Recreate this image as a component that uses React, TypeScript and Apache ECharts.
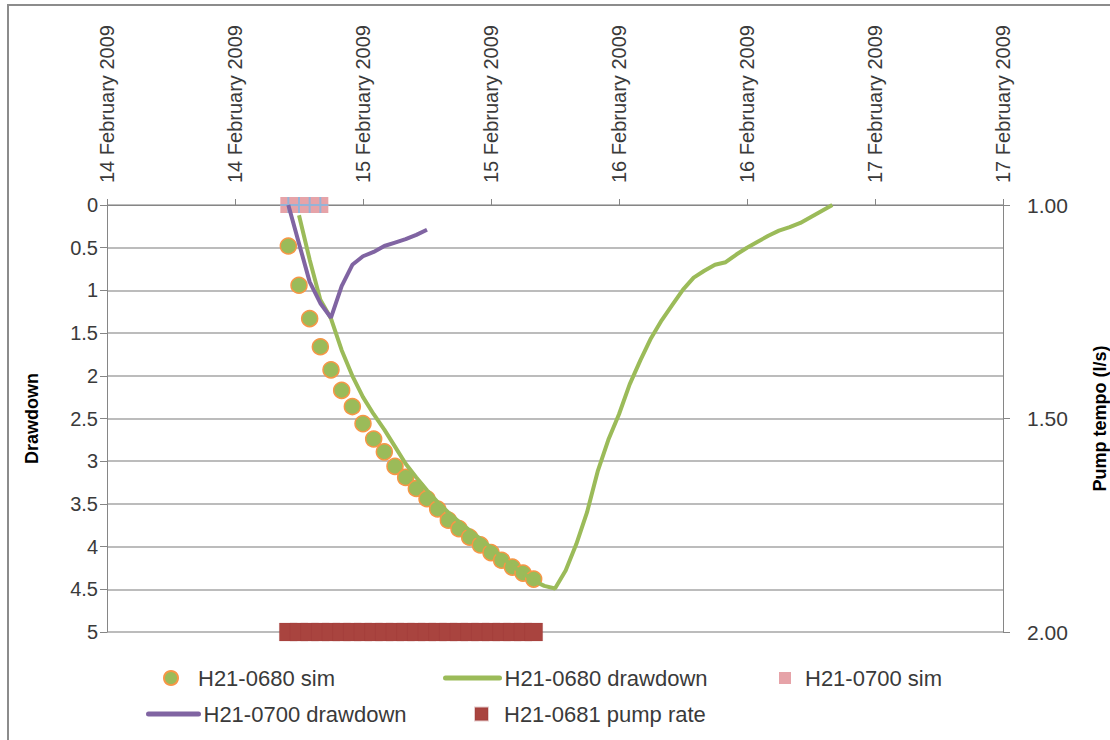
import { useEffect, useRef } from "react";
import * as echarts from "echarts";

// Time is counted in hours from 14 February 2009, 00:00 (UTC)
const START = Date.UTC(2009, 1, 14);
const HOUR_MS = 3600 * 1000;
const SPAN_HOURS = 84;
const TICK_HOURS = 12;
const MONTHS = [
  "January", "February", "March", "April", "May", "June",
  "July", "August", "September", "October", "November", "December",
];

// H21-0680 simulated drawdown (m)
const sim0680Hours = [17, 18, 19, 20, 21, 22, 23, 24, 25, 26, 27, 28, 29, 30, 31, 32, 33, 34, 35, 36, 37, 38, 39, 40];
const sim0680Drawdown = [
  0.48, 0.94, 1.33, 1.66, 1.93, 2.17, 2.36, 2.56, 2.74, 2.89, 3.06, 3.19,
  3.32, 3.44, 3.56, 3.69, 3.79, 3.89, 3.98, 4.07, 4.16, 4.24, 4.31, 4.38,
];

// H21-0680 measured drawdown (m)
const obs0680Hours = [
  18, 19, 20, 21, 22, 23, 24, 25, 26, 27, 28, 29, 30, 31, 32, 33, 34, 35, 36, 37, 38, 39, 40, 41, 42,
  43, 44, 45, 46, 47, 48, 49, 50, 51, 52, 53, 54, 55, 56, 57, 58, 59, 60, 61, 62, 63, 64, 65, 66, 67, 68,
];
const obs0680Drawdown = [
  0.12, 0.64, 1.11, 1.33, 1.7, 2.0, 2.25, 2.45, 2.63, 2.83, 3.03, 3.19, 3.34, 3.48, 3.6, 3.71, 3.81,
  3.91, 4.01, 4.12, 4.23, 4.31, 4.4, 4.46, 4.49, 4.28, 3.97, 3.6, 3.12, 2.75, 2.45, 2.1, 1.82, 1.56,
  1.35, 1.17, 0.99, 0.85, 0.77, 0.7, 0.67, 0.58, 0.5, 0.43, 0.36, 0.3, 0.26, 0.21, 0.14, 0.07, 0.0,
];

// H21-0700 simulated drawdown (m)
const sim0700Hours = [17, 18, 19, 20];
const sim0700Drawdown = [0, 0, 0, 0];

// H21-0700 measured drawdown (m)
const obs0700Hours = [17, 18, 19, 20, 21, 22, 23, 24, 25, 26, 27, 28, 29, 30];
const obs0700Drawdown = [0.0, 0.45, 0.9, 1.15, 1.32, 0.95, 0.7, 0.6, 0.55, 0.48, 0.44, 0.4, 0.35, 0.29];

// H21-0681 pump rate (l/s)
const pumpHours = [17, 18, 19, 20, 21, 22, 23, 24, 25, 26, 27, 28, 29, 30, 31, 32, 33, 34, 35, 36, 37, 38, 39, 40];
const pumpRate = [
  2.0, 2.0, 2.0, 2.0, 2.0, 2.0, 2.0, 2.0, 2.0, 2.0, 2.0, 2.0,
  2.0, 2.0, 2.0, 2.0, 2.0, 2.0, 2.0, 2.0, 2.0, 2.0, 2.0, 2.0,
];

const drawdownTicks = { min: 0, max: 5, interval: 0.5 };
const pumpTicks = { min: 1, max: 2, interval: 0.5 };

const toPoints = (hours: number[], values: number[]) =>
  hours.map((h, i) => [START + h * HOUR_MS, values[i]]);

const FONT = "'Liberation Sans', Arial, sans-serif";
const TEXT = "#3a3a3a";
const AXIS = "#868686";
const GRID = "#a6a6a6";

const GREEN = "#9bbb59";
const ORANGE = "#f79646";
const PURPLE = "#8064a2";
const PINK = "#e6a3a8";
const LIGHT_BLUE = "#95b3d7";
const RED = "#a9443f";

const legendText = (padLeft: number) => ({
  fontSize: 22,
  color: TEXT,
  fontFamily: FONT,
  padding: [0, 0, 0, padLeft],
});

// line legends show only the stroke, no marker in the middle
const lineLegend = {
  itemStyle: { opacity: 0 },
  lineStyle: { width: 5, cap: "round" },
};

const option: any = {
  animation: false,
  backgroundColor: "#ffffff",
  textStyle: { fontFamily: FONT },
  grid: { left: 107, right: 107, top: 205, bottom: 108, outerBoundsMode: "none", containLabel: false },
  xAxis: {
    type: "value",
    position: "top",
    min: START,
    max: START + SPAN_HOURS * HOUR_MS,
    interval: TICK_HOURS * HOUR_MS,
    axisLine: { show: true, onZero: false, lineStyle: { color: AXIS, width: 1 } },
    axisTick: { show: true, length: 6, lineStyle: { color: AXIS } },
    axisLabel: {
      rotate: -90,
      margin: 22,
      fontSize: 20,
      color: TEXT,
      showMinLabel: true,
      showMaxLabel: true,
      formatter: (v: number) => {
        const d = new Date(v);
        return `${d.getUTCDate()} ${MONTHS[d.getUTCMonth()]} ${d.getUTCFullYear()}`;
      },
    },
    splitLine: { show: false },
  },
  yAxis: [
    {
      type: "value",
      position: "left",
      inverse: true,
      ...drawdownTicks,
      name: "Drawdown",
      nameLocation: "middle",
      nameRotate: 90,
      nameGap: 66,
      nameTextStyle: { fontSize: 18, fontWeight: "bold", color: "#000", fontFamily: FONT },
      axisLine: { show: true, onZero: false, lineStyle: { color: AXIS } },
      axisTick: { show: true, length: 7, lineStyle: { color: AXIS } },
      axisLabel: { fontSize: 20, color: TEXT, margin: 9 },
      splitLine: { show: true, lineStyle: { color: GRID, width: 1.5 } },
    },
    {
      type: "value",
      position: "right",
      inverse: true,
      ...pumpTicks,
      name: "Pump tempo (l/s)",
      nameLocation: "middle",
      nameRotate: 90,
      nameGap: 88,
      nameTextStyle: { fontSize: 18, fontWeight: "bold", color: "#000", fontFamily: FONT },
      axisLine: { show: true, onZero: false, lineStyle: { color: AXIS } },
      axisTick: { show: true, length: 7, lineStyle: { color: AXIS } },
      axisLabel: { fontSize: 21, color: TEXT, margin: 24, formatter: (v: number) => v.toFixed(2) },
      splitLine: { show: false },
    },
  ],
  legend: [
    {
      data: [{ name: "H21-0680 sim", icon: "circle" }],
      left: 163, top: 667, padding: 0, itemWidth: 14, itemHeight: 14, textStyle: legendText(15),
    },
    {
      data: ["H21-0680 drawdown"],
      left: 443, top: 667, padding: 0, itemWidth: 54, itemHeight: 16, textStyle: legendText(0),
      ...lineLegend,
    },
    {
      data: [{ name: "H21-0700 sim", icon: "rect" }],
      left: 779, top: 667, padding: 0, itemWidth: 12, itemHeight: 12, textStyle: legendText(9),
    },
    {
      data: ["H21-0700 drawdown"],
      left: 146, top: 703, padding: 0, itemWidth: 50, itemHeight: 16, textStyle: legendText(0),
      ...lineLegend,
    },
    {
      data: [{ name: "H21-0681 pump rate", icon: "rect" }],
      left: 474, top: 703, padding: 0, itemWidth: 13, itemHeight: 13, textStyle: legendText(11),
    },
  ],
  graphic: [
    {
      type: "rect",
      silent: true,
      shape: { x: 8, y: 5, width: 1400, height: 1000 },
      style: { fill: "none", stroke: "#8c8c8c", lineWidth: 2 },
      z: 100,
    },
  ],
  series: [
    {
      name: "H21-0681 pump rate",
      type: "scatter",
      yAxisIndex: 1,
      symbol: "rect",
      symbolSize: 18,
      data: toPoints(pumpHours, pumpRate),
      itemStyle: { color: RED, opacity: 1, borderColor: "rgba(150,50,50,0.25)", borderWidth: 0.6 },
      z: 2,
    },
    {
      name: "H21-0680 sim",
      type: "scatter",
      symbol: "circle",
      symbolSize: 16,
      data: toPoints(sim0680Hours, sim0680Drawdown),
      itemStyle: { color: GREEN, opacity: 1, borderColor: ORANGE, borderWidth: 1.5 },
      z: 3,
    },
    {
      name: "H21-0700 sim",
      type: "scatter",
      symbol: "rect",
      symbolSize: 16,
      data: toPoints(sim0700Hours, sim0700Drawdown),
      itemStyle: { color: PINK, opacity: 1 },
      z: 3,
    },
    {
      name: "H21-0700 sim",
      type: "scatter",
      symbol: "path://M7,0H9V16H7Z M0,7H16V9H0Z",
      symbolSize: 16,
      data: toPoints(sim0700Hours, sim0700Drawdown),
      itemStyle: { color: LIGHT_BLUE, opacity: 1 },
      z: 3,
    },
    {
      name: "H21-0680 drawdown",
      type: "line",
      symbol: "none",
      data: toPoints(obs0680Hours, obs0680Drawdown),
      lineStyle: { color: GREEN, width: 4 },
      itemStyle: { color: GREEN },
      z: 4,
    },
    {
      name: "H21-0700 drawdown",
      type: "line",
      symbol: "none",
      data: toPoints(obs0700Hours, obs0700Drawdown),
      lineStyle: { color: PURPLE, width: 4 },
      itemStyle: { color: PURPLE },
      z: 5,
    },
  ],
};

export default function App() {
  const ref = useRef<HTMLDivElement>(null);
  useEffect(() => {
    if (!ref.current) return;
    const chart = echarts.init(ref.current, null, { renderer: "svg" });
    chart.setOption(option);
    return () => chart.dispose();
  }, []);
  return (
    <div
      ref={ref}
      style={{ position: "absolute", left: 0, top: 0, width: 1110, height: 740, background: "#fff" }}
    />
  );
}
